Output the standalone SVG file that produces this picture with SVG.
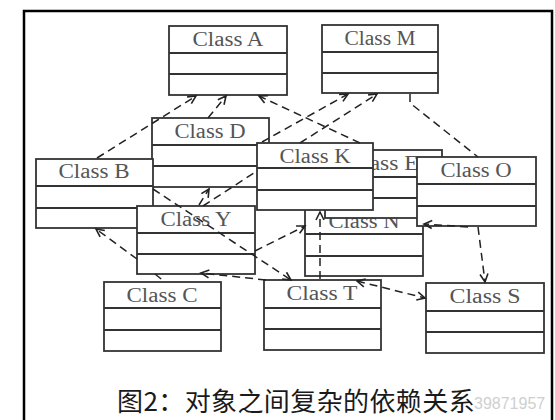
<svg xmlns="http://www.w3.org/2000/svg" width="555" height="420" viewBox="0 0 555 420">
<defs>
<style>
.box rect{fill:#fff;stroke:#333;stroke-width:1.8}
.box line{stroke:#333;stroke-width:1.8}
.box text{font-family:"Liberation Serif","DejaVu Serif",serif;font-size:20px;fill:#555;text-anchor:middle}
.conn path{fill:none;stroke:#222;stroke-width:1.5;stroke-dasharray:8 5}
</style>
<marker id="arr" markerWidth="12" markerHeight="12" refX="9" refY="5" orient="auto-start-reverse" markerUnits="userSpaceOnUse">
<path d="M1,1 L9,5 L1,9" fill="none" stroke="#222" stroke-width="1.6"/>
</marker>
</defs>
<rect x="0" y="0" width="555" height="420" fill="#fff"/>
<path d="M24,420 V11 H552 V420" fill="none" stroke="#000" stroke-width="2.5"/>

<g id="classA" class="box"><rect x="169" y="26" width="118" height="69"/><line x1="169" y1="53" x2="287" y2="53"/><line x1="169" y1="74" x2="287" y2="74"/><text x="228" y="46" textLength="71" lengthAdjust="spacingAndGlyphs">Class A</text></g>
<g id="classM" class="box"><rect x="322" y="25" width="116" height="68"/><line x1="322" y1="52" x2="438" y2="52"/><line x1="322" y1="73" x2="438" y2="73"/><text x="380" y="45" textLength="71" lengthAdjust="spacingAndGlyphs">Class M</text></g>
<g id="classD" class="box"><rect x="152" y="118" width="117" height="69"/><line x1="152" y1="145" x2="269" y2="145"/><line x1="152" y1="166" x2="269" y2="166"/><text x="210" y="138" textLength="71" lengthAdjust="spacingAndGlyphs">Class D</text></g>
<g id="classB" class="box"><rect x="36" y="159" width="117" height="69"/><line x1="36" y1="186" x2="153" y2="186"/><line x1="36" y1="208" x2="153" y2="208"/><text x="94" y="178" textLength="71" lengthAdjust="spacingAndGlyphs">Class B</text></g>
<g id="classY" class="box"><rect x="137" y="206" width="118" height="68"/><line x1="137" y1="233" x2="255" y2="233"/><line x1="137" y1="254" x2="255" y2="254"/><text x="196" y="226" textLength="71" lengthAdjust="spacingAndGlyphs">Class Y</text></g>
<g id="classN" class="box"><rect x="305" y="207" width="118" height="69"/><line x1="305" y1="234" x2="423" y2="234"/><line x1="305" y1="256" x2="423" y2="256"/><text x="364" y="228" textLength="71" lengthAdjust="spacingAndGlyphs">Class N</text></g>
<g id="classE" class="box"><rect x="325" y="150" width="117" height="68"/><line x1="325" y1="177" x2="442" y2="177"/><line x1="325" y1="198" x2="442" y2="198"/><text x="383" y="170" textLength="71" lengthAdjust="spacingAndGlyphs">Class E</text></g>
<g id="classK" class="box"><rect x="257" y="143" width="116" height="67"/><line x1="257" y1="168" x2="373" y2="168"/><line x1="257" y1="190" x2="373" y2="190"/><text x="315" y="163" textLength="71" lengthAdjust="spacingAndGlyphs">Class K</text></g>
<g id="classO" class="box"><rect x="417" y="157" width="119" height="69"/><line x1="417" y1="184" x2="536" y2="184"/><line x1="417" y1="206" x2="536" y2="206"/><text x="476" y="177" textLength="71" lengthAdjust="spacingAndGlyphs">Class O</text></g>
<g id="classC" class="box"><rect x="104" y="282" width="117" height="69"/><line x1="104" y1="308" x2="221" y2="308"/><line x1="104" y1="330" x2="221" y2="330"/><text x="162" y="302" textLength="71" lengthAdjust="spacingAndGlyphs">Class C</text></g>
<g id="classT" class="box"><rect x="264" y="280" width="117" height="70"/><line x1="264" y1="308" x2="381" y2="308"/><line x1="264" y1="329" x2="381" y2="329"/><text x="322" y="300" textLength="71" lengthAdjust="spacingAndGlyphs">Class T</text></g>
<g id="classS" class="box"><rect x="426" y="283" width="118" height="70"/><line x1="426" y1="311" x2="544" y2="311"/><line x1="426" y1="332" x2="544" y2="332"/><text x="485" y="303" textLength="71" lengthAdjust="spacingAndGlyphs">Class S</text></g>

<g id="connectors" class="conn">
<path d="M97,158 L196,96" marker-end="url(#arr)"/>
<path d="M208,118 L226,96" marker-end="url(#arr)"/>
<path d="M360,143 L259,96" marker-end="url(#arr)"/>
<path d="M262,142 L348,94" marker-end="url(#arr)"/>
<path d="M203,206 L257,171"/>
<path d="M300,143 L377,94" marker-end="url(#arr)"/>
<path d="M199,205 L209,189" marker-end="url(#arr)"/>
<path d="M410,94 L410,103 L478,157"/>
<path d="M153,189 L291,280" marker-end="url(#arr)"/>
<path d="M137,259 L96,229" marker-end="url(#arr)"/>
<path d="M155,274 L165,282"/>
<path d="M255,251 L305,226" marker-end="url(#arr)"/>
<path d="M266,280 L201,273" marker-end="url(#arr)"/>
<path d="M357,281 L425,298" marker-start="url(#arr)" marker-end="url(#arr)"/>
<path d="M320,279 L320,212" marker-end="url(#arr)"/>
<path d="M468,227 L424,224" marker-end="url(#arr)"/>
<path d="M478,227 L485,282" marker-end="url(#arr)"/>
</g>

<text x="117" y="411" font-family="'Noto Sans CJK SC','Noto Sans',sans-serif" font-size="26" letter-spacing="0.4" fill="#1a1a1a">图2：对象之间复杂的依赖关系</text>
<text x="474" y="409" font-family="'Liberation Sans',Arial,sans-serif" font-size="16" fill="#cfcfcf">39871957</text>
</svg>
